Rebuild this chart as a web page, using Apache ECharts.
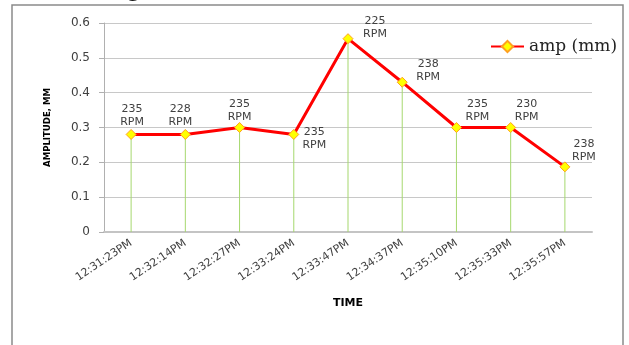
<!DOCTYPE html>
<html>
<head>
<meta charset="utf-8">
<script src="https://cdn.jsdelivr.net/npm/echarts@6/dist/echarts.min.js"></script>
<style>
  html, body { margin: 0; padding: 0; background: #fff; }
  #chart { width: 629px; height: 345px; }
</style>
</head>
<body>
<div id="chart"></div>
<script>
// Sample times (x axis)
const times = ['12:31:23PM', '12:32:14PM', '12:32:27PM', '12:33:24PM', '12:33:47PM',
               '12:34:37PM', '12:35:10PM', '12:35:33PM', '12:35:57PM'];
// Vibration amplitude in mm
const amplitude = [0.28, 0.28, 0.30, 0.28, 0.555, 0.43, 0.30, 0.30, 0.187];
// Shaft speed at each sample
const rpm = [235, 228, 235, 235, 225, 238, 235, 230, 238];
// Y axis ticks
const yTicks = [0, 0.1, 0.2, 0.3, 0.4, 0.5, 0.6];

// Per-point label placement (position, offset)
const labelPlace = [
  { position: 'top', offset: [1, 5] },
  { position: 'top', offset: [-5, 5] },
  { position: 'top', offset: [0, 7] },
  { position: 'right', offset: [10, 4] },
  { position: 'top', offset: [27, 12] },
  { position: 'top', offset: [26, 12] },
  { position: 'top', offset: [21, 7] },
  { position: 'top', offset: [16, 7] },
  { position: 'top', offset: [19, 7] }
];

const lineData = amplitude.map((v, i) => ({
  value: v,
  label: {
    show: true,
    position: labelPlace[i].position,
    offset: labelPlace[i].offset,
    distance: 5,
    formatter: rpm[i] + '\nRPM',
    fontFamily: 'DejaVu Sans',
    fontSize: 11,
    lineHeight: 13,
    color: '#404040',
    align: 'center'
  }
}));

const chart = echarts.init(document.getElementById('chart'), null, { renderer: 'canvas' });
chart.setOption({
  animation: false,
  backgroundColor: '#ffffff',
  grid: { left: 104, right: 37, top: 23, bottom: 113 },
  legend: {
    data: [{ name: 'amp (mm)' }],
    left: 490,
    top: 38,
    padding: 0,
    itemWidth: 33,
    itemHeight: 14,
    itemGap: 4,
    textStyle: { fontFamily: 'DejaVu Serif', fontSize: 17, color: '#222' }
  },
  graphic: [
    {
      type: 'rect',
      shape: { x: 12, y: 5, width: 611, height: 360 },
      style: { fill: 'none', stroke: '#8a8a8a', lineWidth: 1.5 },
      silent: true
    },
    {
      type: 'text',
      left: 127,
      top: -22,
      style: { text: 'g', font: '24px "Liberation Serif"', fill: '#111' },
      silent: true
    }
  ],
  xAxis: {
    type: 'category',
    data: times,
    boundaryGap: true,
    name: 'TIME',
    nameLocation: 'middle',
    nameGap: 66,
    nameTextStyle: { fontFamily: 'DejaVu Sans', fontWeight: 'bold', fontSize: 11, color: '#000' },
    axisLine: { lineStyle: { color: '#c4c4c4', width: 2 } },
    axisTick: { show: false },
    axisLabel: {
      rotate: 34,
      margin: 10,
      interval: 0,
      fontFamily: 'DejaVu Sans',
      fontSize: 11,
      color: '#404040'
    },
    splitLine: { show: false }
  },
  yAxis: {
    type: 'value',
    min: 0,
    max: 0.6,
    interval: 0.1,
    name: 'AMPLITUDE, MM',
    nameLocation: 'middle',
    nameGap: 51,
    nameRotate: 90,
    nameTextStyle: {
      fontFamily: '"DejaVu Sans Condensed", "Liberation Sans Narrow", "Liberation Sans"',
      fontWeight: 'bold', fontSize: 9.5, color: '#000'
    },
    axisLine: { show: true, lineStyle: { color: '#b0b0b0', width: 1 } },
    axisTick: { show: true, length: 5, inside: false, lineStyle: { color: '#b0b0b0' } },
    axisLabel: {
      margin: 14,
      fontFamily: 'DejaVu Sans',
      fontSize: 12,
      color: '#404040',
      formatter: v => String(yTicks.find(t => Math.abs(t - v) < 1e-9) ?? v)
    },
    splitLine: { lineStyle: { color: '#c8c8c8', width: 1 } }
  },
  series: [
    {
      name: 'drop',
      type: 'bar',
      data: amplitude,
      barWidth: 1,
      itemStyle: { color: '#a6d86e' },
      silent: true,
      z: 1
    },
    {
      name: 'amp (mm)',
      type: 'line',
      data: lineData,
      symbol: 'diamond',
      symbolSize: 10,
      lineStyle: { color: '#ff0000', width: 3 },
      itemStyle: { color: '#ffff00', borderColor: '#ffa020', borderWidth: 1 },
      z: 3
    }
  ]
});
</script>
</body>
</html>
